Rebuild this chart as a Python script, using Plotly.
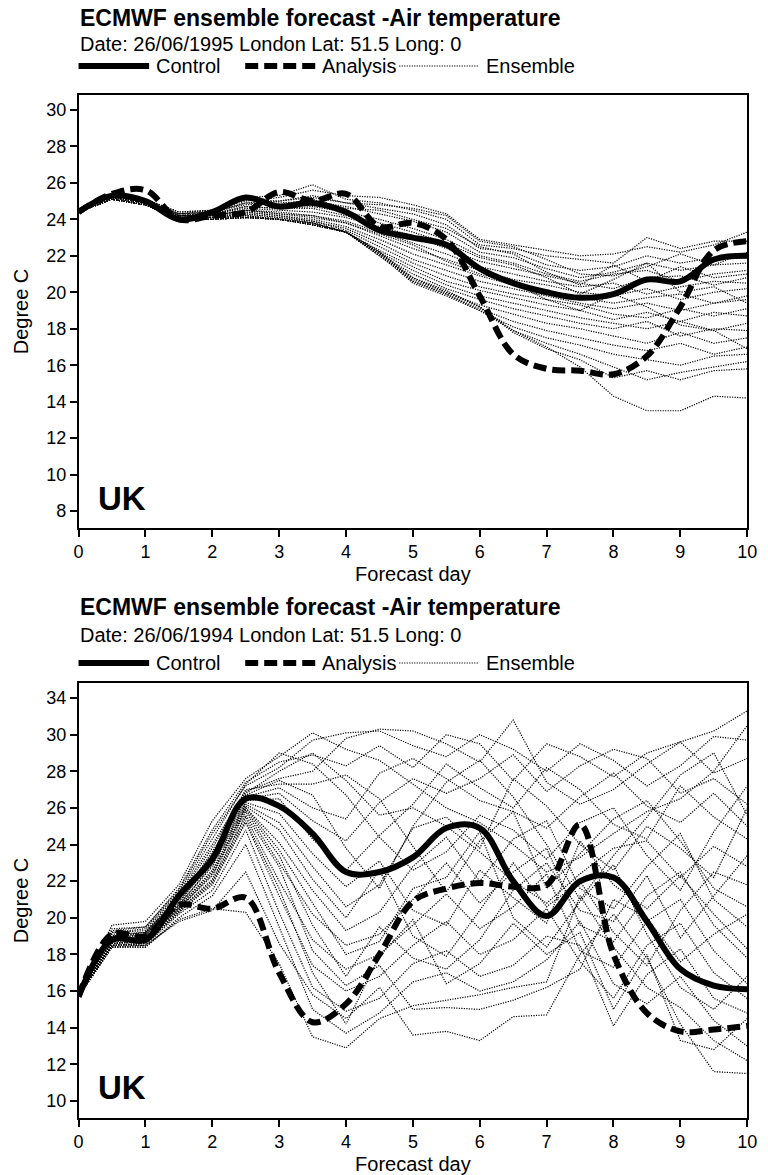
import plotly.graph_objects as go

W, H = 768, 1175

# ---------------- data ----------------
days = [0, 0.5, 1, 1.5, 2, 2.5, 3, 3.5, 4, 4.5, 5, 5.5, 6, 6.5, 7, 7.5, 8, 8.5, 9, 9.5, 10]
x_ticks = [0, 1, 2, 3, 4, 5, 6, 7, 8, 9, 10]
x_ticktext = ["0", "1", "2", "3", "4", "5", "6", "7", "8", "9", "10"]

# --- 26/06/1995 ---
control_1995 = [24.4, 25.3, 25.0, 24.0, 24.4, 25.2, 24.7, 24.9, 24.4, 23.4, 23.0, 22.6, 21.3, 20.5, 20.0, 19.7, 19.9, 20.7, 20.6, 21.8, 22.0]
analysis_1995 = [24.4, 25.4, 25.6, 24.0, 24.2, 24.4, 25.5, 25.0, 25.4, 23.6, 23.8, 22.9, 19.8, 16.6, 15.8, 15.7, 15.5, 16.5, 19.2, 22.3, 22.8]
ensemble_1995 = [
    [24.4, 25.3, 25.1, 24.4, 24.5, 25.0, 25.2, 25.6, 25.3, 25.2, 24.8, 24.3, 22.9, 22.6, 22.3, 22.0, 22.1, 22.5, 22.2, 22.6, 23.3],
    [24.4, 25.3, 25.0, 24.3, 24.5, 25.2, 25.3, 25.9, 25.1, 24.9, 24.5, 24.0, 22.6, 22.4, 22.0, 21.8, 21.6, 23.0, 22.4, 22.8, 22.8],
    [24.4, 25.2, 25.0, 24.2, 24.4, 24.9, 25.0, 25.2, 24.9, 24.6, 24.3, 23.7, 22.4, 22.2, 21.5, 21.2, 21.4, 22.0, 21.6, 21.9, 21.9],
    [24.4, 25.3, 25.1, 24.3, 24.4, 24.8, 24.9, 25.0, 24.7, 24.3, 23.9, 23.3, 22.2, 21.9, 21.3, 20.8, 21.1, 21.6, 21.2, 21.5, 21.6],
    [24.4, 25.2, 24.9, 24.2, 24.3, 24.7, 24.6, 24.7, 24.4, 24.0, 23.5, 22.9, 22.0, 21.6, 21.0, 20.6, 21.0, 21.2, 20.6, 21.0, 21.2],
    [24.4, 25.2, 25.0, 24.2, 24.3, 24.6, 24.5, 24.4, 24.1, 23.6, 23.1, 22.4, 21.7, 21.3, 20.9, 20.5, 20.2, 20.8, 20.9, 20.4, 20.8],
    [24.4, 25.3, 25.0, 24.2, 24.2, 24.5, 24.4, 24.2, 23.9, 23.3, 22.7, 22.1, 21.4, 21.0, 20.6, 20.3, 20.5, 19.9, 20.3, 20.6, 20.5],
    [24.4, 25.2, 25.0, 24.2, 24.2, 24.5, 24.3, 24.1, 23.8, 23.1, 22.4, 21.8, 21.2, 20.7, 20.4, 20.0, 19.8, 20.2, 19.6, 20.0, 20.2],
    [24.4, 25.2, 24.9, 24.1, 24.2, 24.4, 24.2, 24.0, 23.6, 22.9, 22.1, 21.5, 20.9, 20.4, 20.1, 19.7, 19.4, 19.7, 19.9, 19.4, 19.8],
    [24.4, 25.2, 24.9, 24.1, 24.1, 24.4, 24.2, 23.9, 23.5, 22.7, 21.8, 21.2, 20.6, 20.2, 19.8, 19.4, 19.1, 19.4, 19.0, 19.4, 19.6],
    [24.4, 25.2, 24.9, 24.1, 24.1, 24.3, 24.1, 23.9, 23.4, 22.5, 21.6, 20.9, 20.3, 19.9, 19.6, 19.3, 18.8, 18.6, 19.1, 18.7, 19.1],
    [24.4, 25.2, 24.9, 24.1, 24.1, 24.3, 24.1, 23.8, 23.3, 22.3, 21.4, 20.6, 20.1, 19.7, 19.3, 19.0, 18.5, 18.9, 18.4, 18.9, 18.7],
    [24.4, 25.1, 24.8, 24.0, 24.1, 24.2, 24.0, 23.8, 23.3, 22.2, 21.2, 20.4, 19.8, 19.4, 19.0, 18.6, 18.3, 18.0, 18.4, 17.9, 18.3],
    [24.4, 25.1, 24.8, 24.0, 24.0, 24.2, 24.0, 23.8, 23.3, 22.1, 21.0, 20.2, 19.6, 19.1, 18.7, 18.3, 18.0, 18.4, 17.6, 18.0, 17.9],
    [24.4, 25.1, 24.8, 24.0, 24.0, 24.2, 24.0, 23.8, 23.3, 22.0, 20.8, 20.0, 19.3, 18.8, 18.3, 18.0, 17.6, 17.2, 17.8, 17.2, 17.5],
    [24.4, 25.1, 24.8, 24.0, 24.0, 24.1, 24.0, 23.7, 23.3, 22.0, 20.6, 19.9, 19.1, 18.4, 17.9, 17.5, 17.1, 16.8, 17.2, 16.6, 17.0],
    [24.4, 25.1, 24.8, 24.0, 24.0, 24.1, 24.0, 23.7, 23.3, 22.1, 20.5, 19.8, 19.0, 18.1, 17.5, 17.1, 16.6, 16.3, 16.0, 16.5, 16.6],
    [24.4, 25.1, 24.8, 24.0, 24.0, 24.1, 24.0, 23.7, 23.3, 22.2, 20.6, 19.9, 19.0, 17.9, 17.2, 16.6, 15.9, 15.2, 15.6, 15.9, 16.2],
    [24.4, 25.1, 24.8, 24.0, 24.0, 24.1, 24.0, 23.7, 23.3, 22.2, 20.7, 20.0, 19.2, 17.8, 16.9, 16.3, 15.3, 15.7, 15.2, 15.7, 15.8],
    [24.4, 25.1, 24.8, 24.0, 24.0, 24.1, 24.0, 23.7, 23.3, 22.2, 20.8, 20.1, 19.2, 17.9, 17.0, 15.9, 14.3, 13.5, 13.5, 14.3, 14.2],
    [24.4, 25.3, 25.1, 24.4, 24.5, 25.1, 25.0, 25.3, 24.9, 24.8, 24.6, 24.2, 22.8, 22.5, 21.8, 21.0, 20.9, 21.4, 22.1, 21.5, 22.2],
    [24.4, 25.2, 25.0, 24.3, 24.4, 24.9, 24.8, 25.1, 24.6, 24.5, 24.0, 23.5, 22.5, 22.1, 21.1, 20.4, 21.5, 20.6, 21.4, 20.8, 21.0],
    [24.4, 25.2, 25.0, 24.2, 24.3, 24.7, 24.6, 24.6, 24.2, 23.8, 23.3, 22.7, 21.9, 21.5, 20.8, 19.9, 20.7, 21.6, 20.0, 20.3, 19.4],
    [24.4, 25.2, 24.9, 24.1, 24.2, 24.5, 24.3, 24.2, 23.8, 23.2, 22.6, 21.7, 21.0, 20.5, 19.6, 19.0, 19.9, 19.2, 18.2, 17.9, 16.9],
]

# --- 26/06/1994 ---
control_1994 = [15.7, 18.8, 18.8, 21.2, 23.2, 26.5, 26.1, 24.6, 22.5, 22.5, 23.3, 24.9, 24.9, 22.0, 20.1, 22.0, 22.2, 19.8, 17.2, 16.3, 16.1]
analysis_1994 = [15.7, 19.1, 19.0, 20.7, 20.5, 21.1, 17.0, 14.3, 15.3, 18.0, 20.9, 21.6, 21.9, 21.7, 21.8, 25.1, 18.0, 14.8, 13.8, 13.9, 14.1]
ensemble_1994 = [
    [15.7, 19.6, 19.8, 21.8, 25.3, 27.6, 28.8, 30.1, 29.2, 28.6, 27.3, 26.0, 25.2, 24.0, 22.5, 23.3, 24.6, 25.8, 26.5, 28.0, 30.5],
    [15.7, 19.4, 19.5, 21.5, 24.6, 27.2, 28.2, 29.7, 30.1, 30.2, 29.4, 28.8, 30.0, 29.2, 28.0, 29.5, 28.6, 27.2, 28.3, 29.9, 29.7],
    [15.7, 19.2, 19.3, 21.3, 24.0, 26.9, 27.6, 28.0, 29.8, 30.3, 30.2, 29.5, 28.5, 30.8, 27.4, 26.2, 27.0, 28.4, 29.6, 30.2, 31.3],
    [15.7, 19.0, 19.2, 21.0, 23.6, 26.6, 27.1, 26.0, 25.4, 27.9, 28.7, 27.6, 26.4, 25.8, 24.9, 26.6, 27.9, 26.1, 25.2, 26.8, 25.0],
    [15.7, 18.9, 19.0, 20.8, 23.2, 26.4, 26.5, 24.3, 22.6, 24.5, 26.2, 28.4, 27.1, 26.0, 28.2, 27.0, 25.1, 24.3, 27.2, 25.5, 24.3],
    [15.7, 18.8, 18.9, 20.7, 22.9, 26.2, 25.2, 22.8, 20.6, 21.8, 24.9, 25.5, 23.8, 27.6, 26.1, 24.0, 22.6, 25.0, 23.8, 22.2, 26.0],
    [15.7, 18.7, 18.8, 20.6, 22.6, 26.0, 24.1, 21.5, 19.3, 20.3, 22.8, 24.4, 22.0, 24.3, 25.3, 21.6, 20.5, 22.8, 24.6, 21.0, 19.5],
    [15.7, 18.6, 18.8, 20.5, 22.3, 25.8, 23.0, 20.2, 18.5, 19.1, 21.0, 23.0, 20.8, 22.5, 23.8, 19.6, 18.7, 21.2, 22.5, 19.6, 17.8],
    [15.7, 18.6, 18.7, 20.4, 22.0, 25.5, 22.0, 18.8, 17.2, 18.0, 19.6, 21.3, 19.4, 20.6, 22.4, 18.2, 17.3, 19.8, 21.0, 18.2, 16.4],
    [15.7, 18.5, 18.6, 20.3, 21.8, 25.2, 21.2, 17.4, 16.0, 16.8, 18.5, 19.8, 18.0, 18.8, 20.5, 17.6, 15.6, 18.5, 19.7, 17.0, 15.6],
    [15.7, 18.5, 18.5, 20.2, 21.5, 24.8, 20.3, 16.2, 14.9, 15.6, 17.5, 18.2, 16.8, 17.4, 19.0, 18.5, 14.1, 16.9, 18.3, 15.6, 14.8],
    [15.7, 18.4, 18.4, 20.0, 21.2, 24.0, 19.5, 15.0, 13.7, 14.8, 16.5, 17.0, 16.0, 16.5, 17.7, 19.8, 16.4, 15.3, 16.8, 14.4, 13.0],
    [15.7, 18.4, 18.4, 19.9, 20.5, 20.3, 17.5, 13.5, 12.9, 14.5, 15.2, 15.5, 15.8, 16.2, 16.5, 21.2, 18.4, 16.2, 15.1, 13.3, 12.2],
    [15.7, 18.4, 18.5, 19.8, 20.4, 22.5, 18.6, 15.8, 14.5, 16.2, 13.6, 13.8, 13.3, 14.6, 14.7, 18.0, 20.2, 17.8, 14.2, 11.6, 11.5],
    [15.7, 19.0, 19.1, 21.1, 23.4, 26.8, 28.0, 29.0, 27.5, 25.6, 26.0, 25.0, 23.6, 22.0, 20.8, 22.4, 23.8, 24.2, 22.2, 23.9, 22.8],
    [15.7, 19.2, 19.4, 21.4, 24.3, 27.3, 29.0, 28.4, 26.7, 24.4, 22.6, 23.6, 25.6, 24.8, 23.2, 25.2, 26.0, 23.4, 21.5, 24.7, 27.2],
    [15.7, 19.1, 19.2, 21.2, 23.8, 27.0, 27.3, 27.3, 27.8, 26.5, 23.9, 21.4, 24.2, 25.8, 21.6, 23.5, 25.4, 26.4, 24.2, 21.6, 20.6],
    [15.7, 18.8, 19.0, 20.9, 23.0, 26.3, 25.7, 23.5, 21.7, 23.1, 20.4, 19.6, 22.6, 21.1, 19.7, 24.2, 21.8, 20.5, 22.3, 20.2, 18.3],
    [15.7, 18.7, 18.9, 20.7, 22.8, 26.1, 24.8, 22.1, 20.0, 22.6, 19.0, 17.9, 20.4, 23.0, 20.6, 22.0, 19.2, 17.4, 20.4, 22.5, 21.8],
    [15.7, 18.6, 18.7, 20.5, 22.4, 25.9, 23.4, 19.6, 16.8, 19.5, 17.8, 17.2, 18.8, 21.5, 23.0, 20.4, 19.8, 22.3, 18.9, 21.2, 23.4],
    [15.7, 18.5, 18.6, 20.4, 22.1, 25.6, 22.8, 18.2, 16.3, 17.4, 15.0, 15.1, 15.0, 15.5, 16.2, 17.2, 21.0, 20.0, 17.6, 19.1, 20.2],
    [15.7, 18.9, 19.1, 21.0, 23.3, 26.5, 26.8, 25.3, 24.2, 26.3, 27.6, 26.8, 27.6, 28.9, 26.9, 28.3, 29.2, 28.7, 26.8, 27.6, 26.2],
    [15.7, 19.3, 19.5, 21.6, 24.8, 27.4, 28.5, 28.9, 28.3, 29.4, 28.2, 30.0, 29.5, 27.5, 29.5, 28.8, 27.7, 29.0, 29.6, 27.9, 28.7],
    [15.7, 18.6, 18.7, 20.6, 22.5, 26.0, 23.7, 20.8, 18.0, 18.7, 21.6, 22.2, 24.7, 20.0, 18.4, 20.9, 22.9, 19.1, 16.2, 15.0, 16.8],
    [15.7, 18.5, 18.6, 20.3, 21.9, 25.3, 21.6, 17.0, 14.2, 17.9, 19.9, 16.4, 17.5, 19.7, 18.0, 19.2, 15.0, 18.0, 13.3, 12.8, 14.5],
    [15.7, 19.0, 19.2, 21.1, 23.5, 26.7, 27.5, 26.7, 23.8, 21.6, 25.0, 27.4, 28.6, 26.6, 24.0, 21.0, 23.4, 25.5, 27.8, 29.0, 25.6],
]

y_ticks_1995 = [8, 10, 12, 14, 16, 18, 20, 22, 24, 26, 28, 30]
y_ticktext_1995 = ["8", "10", "12", "14", "16", "18", "20", "22", "24", "26", "28", "30"]
y_ticks_1994 = [10, 12, 14, 16, 18, 20, 22, 24, 26, 28, 30, 32]
y_ticktext_1994 = ["10", "12", "14", "16", "18", "20", "22", "24", "26", "28", "30", "34"]

title_text = "ECMWF ensemble forecast -Air temperature"
subtitle_1995 = "Date: 26/06/1995 London Lat: 51.5 Long: 0"
subtitle_1994 = "Date: 26/06/1994 London Lat: 51.5 Long: 0"
legend_names = ["Control", "Analysis", "Ensemble"]

# ---------------- styling ----------------
FONT = "Liberation Sans, Arial, Helvetica, sans-serif"
ENS_STYLE = dict(color="black", width=1.2, dash="1.2px,1.3px")
CTRL_STYLE = dict(color="black", width=6)
ANA_STYLE = dict(color="black", width=6, dash="13px,6px")


def px(p):
    return p / W


def py(p):
    return 1 - p / H


fig = go.Figure()


def add_panel(xa, ya, control, analysis, ensemble):
    for member in ensemble:
        fig.add_trace(go.Scatter(x=days, y=member, mode="lines", line=ENS_STYLE,
                                 xaxis=xa, yaxis=ya, showlegend=False, hoverinfo="skip",
                                 name=legend_names[2]))
    fig.add_trace(go.Scatter(x=days, y=control, mode="lines", line=dict(**CTRL_STYLE, shape="spline", smoothing=1.0),
                             xaxis=xa, yaxis=ya, showlegend=False, name=legend_names[0]))
    fig.add_trace(go.Scatter(x=days, y=analysis, mode="lines", line=dict(**ANA_STYLE, shape="spline", smoothing=1.0),
                             xaxis=xa, yaxis=ya, showlegend=False, name=legend_names[1]))


add_panel("x", "y", control_1995, analysis_1995, ensemble_1995)
add_panel("x2", "y2", control_1994, analysis_1994, ensemble_1994)

axis_common = dict(showline=True, linecolor="black", linewidth=1.5, mirror=True,
                   showgrid=False, zeroline=False, ticks="outside", ticklen=7, tickwidth=1.5,
                   tickcolor="black", tickfont=dict(family=FONT, size=18, color="black"))

xdom = [px(75), px(757)]
fig.update_layout(
    width=W, height=H,
    margin=dict(l=0, r=0, t=0, b=0),
    paper_bgcolor="white", plot_bgcolor="white",
    font=dict(family=FONT, color="black"),
    showlegend=False,
    xaxis=dict(domain=xdom, anchor="y", range=[0, 10], tickvals=x_ticks, ticktext=x_ticktext,
               title=dict(text="Forecast day", font=dict(size=20), standoff=6), **axis_common),
    yaxis=dict(domain=[py(528), py(95)], anchor="x", range=[7.07, 30.82],
               tickvals=y_ticks_1995, ticktext=y_ticktext_1995,
               title=dict(text="Degree C", font=dict(size=20), standoff=12), **axis_common),
    xaxis2=dict(domain=xdom, anchor="y2", range=[0, 10], tickvals=x_ticks, ticktext=x_ticktext,
                title=dict(text="Forecast day", font=dict(size=20), standoff=6), **axis_common),
    yaxis2=dict(domain=[py(1118), py(683)], anchor="x2", range=[9.07, 32.82],
                tickvals=y_ticks_1994, ticktext=y_ticktext_1994,
                title=dict(text="Degree C", font=dict(size=20), standoff=12), **axis_common),
)

annotations = []
shapes = []


def header(y_title, y_sub, y_leg, subtitle):
    annotations.append(dict(text="<b>" + title_text + "</b>", xref="paper", yref="paper",
                            x=px(74), y=py(y_title), xanchor="left", yanchor="middle",
                            showarrow=False, font=dict(size=23, family=FONT)))
    annotations.append(dict(text=subtitle, xref="paper", yref="paper",
                            x=px(74), y=py(y_sub), xanchor="left", yanchor="middle",
                            showarrow=False, font=dict(size=20, family=FONT)))
    # legend samples
    samples = [(75, 147, CTRL_STYLE, 152), (245, 319, ANA_STYLE, 321), (402, 483, ENS_STYLE, 489)]
    for (x0, x1, st, tx), name in zip(samples, legend_names):
        shapes.append(dict(type="line", xref="paper", yref="paper", x0=px(x0), x1=px(x1),
                           y0=py(y_leg), y1=py(y_leg), line=st))
        annotations.append(dict(text=name, xref="paper", yref="paper", x=px(tx), y=py(y_leg),
                                xanchor="left", yanchor="middle", showarrow=False,
                                font=dict(size=20, family=FONT)))


header(18, 44, 66, subtitle_1995)
header(607, 635, 663, subtitle_1994)

annotations.append(dict(text="<b>UK</b>", xref="x domain", yref="y domain", x=0.026, y=0.067,
                        xanchor="left", yanchor="middle", showarrow=False, font=dict(size=33, family=FONT)))
annotations.append(dict(text="<b>UK</b>", xref="x2 domain", yref="y2 domain", x=0.026, y=0.071,
                        xanchor="left", yanchor="middle", showarrow=False, font=dict(size=33, family=FONT)))

fig.update_layout(annotations=annotations, shapes=shapes)

fig.write_html("out.html")
